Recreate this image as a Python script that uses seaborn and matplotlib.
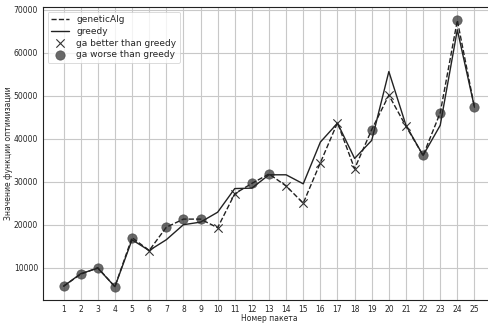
import matplotlib
matplotlib.use("Agg")
import matplotlib.pyplot as plt
import seaborn as sns
import pandas as pd

packets = list(range(1, 26))
genetic = [5700, 8500, 10000, 5600, 17000, 14000, 19400, 21300, 21300, 19300,
           27200, 29600, 31800, 29000, 25000, 34400, 43700, 33000, 42100, 50100,
           42900, 36100, 46000, 67500, 47300]
greedy = [5700, 8600, 9900, 5600, 16500, 14000, 16500, 20000, 20600, 22900,
          28400, 28500, 31600, 31600, 29500, 39200, 43600, 35400, 39600, 55600,
          43100, 36100, 43100, 65300, 47300]
better_idx = [6, 10, 11, 14, 15, 16, 17, 18, 20, 21]
worse_idx = [1, 2, 3, 4, 5, 7, 8, 9, 12, 13, 19, 22, 23, 24, 25]

df = pd.DataFrame({"packet": packets, "genetic": genetic, "greedy": greedy})
better = df[df["packet"].isin(better_idx)]
worse = df[df["packet"].isin(worse_idx)]

sns.set_style("white")
plt.rcParams['font.family'] = ['DejaVu Sans']
fig = plt.figure(figsize=(4.89, 3.23), dpi=100)
ax = fig.add_axes([43/489, 23/323, 452/489, 293/323])

sns.lineplot(data=df, x="packet", y="genetic", ax=ax, color="#222222",
             linestyle="--", linewidth=1.0, label="geneticAlg")
sns.lineplot(data=df, x="packet", y="greedy", ax=ax, color="#222222",
             linestyle="-", linewidth=1.0, label="greedy")
sns.scatterplot(data=better, x="packet", y="genetic", ax=ax, marker="x",
                color="#333333", s=36, linewidth=0.8, label="ga better than greedy")
sns.scatterplot(data=worse, x="packet", y="genetic", ax=ax, marker="o",
                color="#444444", alpha=0.8, s=45, edgecolor="#444444",
                label="ga worse than greedy")

ax.set_xticks(packets)
ax.set_xticklabels([str(p) for p in packets])
ax.set_xlim(-0.2, 26.2)
ax.set_ylim(2500, 70600)
ax.set_yticks([10000, 20000, 30000, 40000, 50000, 60000, 70000])
ax.grid(True, color="#c8c8c8", linewidth=0.8)
ax.tick_params(labelsize=5.5, length=2, pad=1.5, color="#333333")
for sp in ax.spines.values():
    sp.set_color("#222222")
    sp.set_linewidth(0.8)
ax.set_xlabel("Номер пакета", fontsize=5.5, labelpad=0)
ax.set_ylabel("Значение функции оптимизации", fontsize=5.5)
ax.yaxis.set_label_coords(-0.066, 0.5)
leg = ax.legend(loc="upper left", fontsize=6.5, frameon=True, borderpad=0.4,
                labelspacing=0.3, handlelength=2.0)
leg.get_frame().set_linewidth(0.6)
fig.savefig("out.png", dpi=100)
